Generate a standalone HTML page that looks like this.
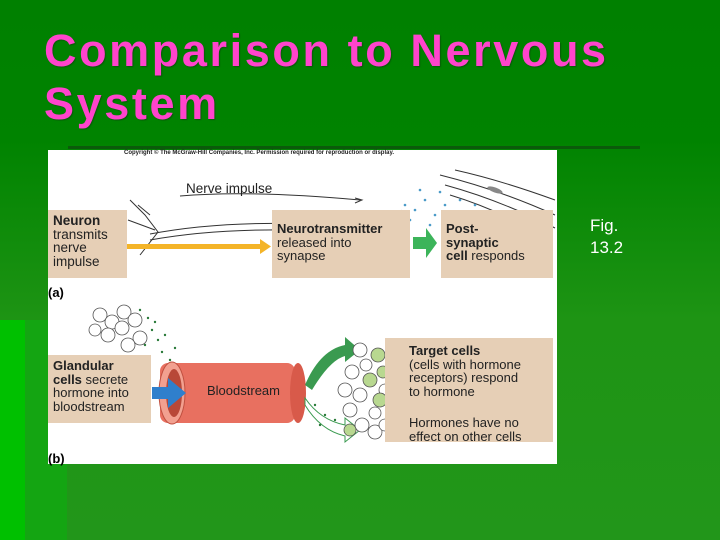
<!DOCTYPE html>
<html><head><style>
*{margin:0;padding:0}
body{width:720px;height:540px;overflow:hidden;position:relative;background:linear-gradient(180deg,#008000 0,#008300 140px,#1e9414 320px,#22961a 540px);font-family:"Liberation Sans",sans-serif}
.abs{position:absolute}
h1{position:absolute;left:44px;top:24px;font:bold 45px/53px "Liberation Sans",sans-serif;color:#ff44cc;letter-spacing:2.6px;text-shadow:1px 1px 1px #0a5a0a}
.box{position:absolute;background:#e6cfb6;font-size:13px;line-height:13.5px;color:#222;padding:4px 5px}
.box b{font-weight:bold}
</style></head><body>
<div class="abs" style="left:0;top:320px;width:25px;height:220px;background:#00c000"></div>
<div class="abs" style="left:25px;top:320px;width:42px;height:220px;background:#14a512"></div>
<div class="abs" style="left:68px;top:146px;width:572px;height:3px;background:#0b5a0b"></div>
<h1>Comparison to Nervous<br>System</h1>
<div class="abs" style="left:590px;top:215px;color:#fff;font-size:17px;line-height:22px">Fig.<br>13.2</div>
<div class="abs" style="left:48px;top:150px;width:509px;height:314px;background:#fff"></div>
<div class="abs" style="left:124px;top:150px;font-size:6px;color:#222;font-weight:bold">Copyright © The McGraw-Hill Companies, Inc. Permission required for reproduction or display.</div>
<svg class="abs" style="left:0;top:0" width="720" height="540">
<g fill="none" stroke="#333" stroke-width="1">
<path d="M150 234 Q250 215 390 230 Q400 225 402 210"/><path d="M150 240 Q250 222 395 236 Q400 240 405 240"/>
<path d="M180 196 Q250 190 360 200"/><path d="M355 198 L362 200 L355 203"/>
<path d="M130 200 L145 215 L158 232 L140 255 M150 215 L138 205 M155 230 L128 220"/>
<path d="M440 175 Q500 190 555 215 M450 195 Q500 210 550 240 M455 170 Q500 180 555 200 M445 185 Q500 200 555 228"/>
</g>
<g fill="#888"><ellipse cx="495" cy="190" rx="8" ry="2.5" transform="rotate(20 495 190)"/><ellipse cx="530" cy="215" rx="8" ry="2.5" transform="rotate(25 530 215)"/></g>
<g fill="#4a9ac8"><circle cx="405" cy="205" r="1.3"/><circle cx="415" cy="210" r="1.3"/><circle cx="425" cy="200" r="1.3"/><circle cx="435" cy="215" r="1.3"/><circle cx="445" cy="205" r="1.3"/><circle cx="455" cy="222" r="1.3"/><circle cx="420" cy="190" r="1.3"/><circle cx="410" cy="220" r="1.3"/><circle cx="470" cy="215" r="1.3"/><circle cx="485" cy="225" r="1.3"/><circle cx="430" cy="225" r="1.3"/><circle cx="440" cy="192" r="1.3"/><circle cx="460" cy="200" r="1.3"/><circle cx="475" cy="205" r="1.3"/><circle cx="450" cy="212" r="1.3"/><circle cx="495" cy="215" r="1.3"/></g>
<rect x="127" y="244" width="135" height="5" fill="#f4b428"/><path d="M260 239 L271 246.5 L260 254Z" fill="#f4b428"/>
<path d="M413 237 H426 V228 L437 243 L426 258 V249 H413Z" fill="#3cb45a"/>
<rect x="160" y="363" width="135" height="60" rx="8" fill="#e87060"/>
<ellipse cx="298" cy="393" rx="8" ry="30" fill="#d85a4a"/>
<ellipse cx="172" cy="393" rx="13" ry="31" fill="#f2a090" stroke="#c05040"/>
<ellipse cx="174" cy="393" rx="8" ry="24" fill="#b84838"/>
<path d="M152 387 H168 V378 L186 393 L168 408 V399 H152Z" fill="#2f7fcc"/>
<path d="M305 385 Q320 350 345 345 V337 L360 350 L345 362 V356 Q330 360 312 390Z" fill="#3a9a50"/>
<path d="M305 398 Q320 420 345 425 V418 L360 430 L345 442 V436 Q320 430 305 405Z" fill="#fff" stroke="#3a9a50"/>
<g fill="#2a7a3a"><circle cx="140" cy="310" r="1.2"/><circle cx="148" cy="318" r="1.2"/><circle cx="152" cy="330" r="1.2"/><circle cx="158" cy="340" r="1.2"/><circle cx="145" cy="345" r="1.2"/><circle cx="162" cy="352" r="1.2"/><circle cx="170" cy="360" r="1.2"/><circle cx="155" cy="322" r="1.2"/><circle cx="165" cy="335" r="1.2"/><circle cx="175" cy="348" r="1.2"/><circle cx="315" cy="405" r="1.2"/><circle cx="325" cy="415" r="1.2"/><circle cx="335" cy="420" r="1.2"/><circle cx="320" cy="425" r="1.2"/></g>
<g fill="#fff" stroke="#555" stroke-width="0.8"><circle cx="100" cy="315" r="7"/><circle cx="112" cy="322" r="7"/><circle cx="124" cy="312" r="7"/><circle cx="108" cy="335" r="7"/><circle cx="122" cy="328" r="7"/><circle cx="135" cy="320" r="7"/><circle cx="140" cy="338" r="7"/><circle cx="128" cy="345" r="7"/><circle cx="95" cy="330" r="6"/>
<circle cx="360" cy="350" r="7"/><circle cx="352" cy="372" r="7"/><circle cx="360" cy="395" r="7"/><circle cx="350" cy="410" r="7"/><circle cx="362" cy="425" r="7"/><circle cx="375" cy="432" r="7"/><circle cx="345" cy="390" r="7"/><circle cx="366" cy="365" r="6"/><circle cx="375" cy="413" r="6"/><circle cx="385" cy="425" r="6"/><circle cx="385" cy="390" r="6"/></g>
<g fill="#b8d890" stroke="#555" stroke-width="0.8"><circle cx="378" cy="355" r="7"/><circle cx="370" cy="380" r="7"/><circle cx="380" cy="400" r="7"/><circle cx="350" cy="430" r="6"/><circle cx="383" cy="372" r="6"/></g>
</svg>
<div class="box" style="left:48px;top:210px;width:69px;height:60px;font-size:13.5px">
<b>Neuron</b><br>transmits<br>nerve<br>impulse</div>
<div class="abs" style="left:186px;top:181px;font-size:13.5px;color:#222">Nerve impulse</div>
<div class="box" style="left:272px;top:210px;width:128px;padding-top:12px;height:52px"><b>Neurotransmitter</b><br>released into<br>synapse</div>
<div class="box" style="left:441px;top:210px;width:102px;padding-top:12px;height:52px"><b>Post-<br>synaptic<br>cell</b> responds</div>
<div class="abs" style="left:48px;top:285px;font-size:13px;font-weight:bold">(a)</div>
<div class="abs" style="left:48px;top:451px;font-size:13px;font-weight:bold">(b)</div>
<div class="box" style="left:48px;top:355px;width:93px;height:60px"><b>Glandular<br>cells</b> secrete<br>hormone into<br>bloodstream</div>
<div class="abs" style="left:207px;top:383px;font-size:13px;color:#222">Bloodstream</div>
<div class="box" style="left:385px;top:338px;width:139px;height:94px;padding-left:24px;padding-top:6px;padding-right:5px"><b>Target cells</b><br>(cells with hormone<br>receptors) respond<br>to hormone<br><div style="height:18px"></div>Hormones have no<br>effect on other cells</div>
</body></html>
